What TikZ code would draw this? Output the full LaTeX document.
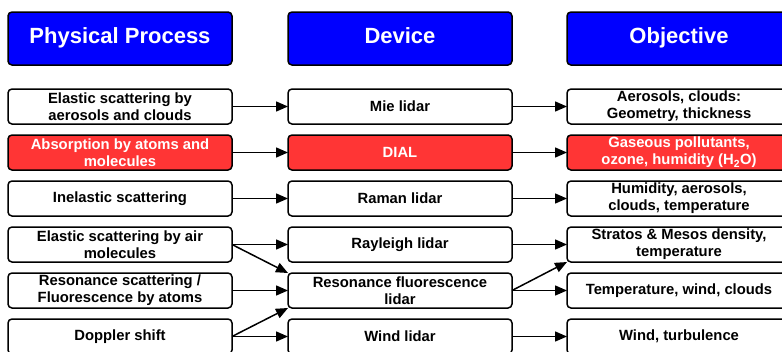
\documentclass[tikz,border=0pt]{standalone}
\usepackage{fontspec}
\setmainfont{Liberation Sans}
\usepackage{xcolor}
\usetikzlibrary{positioning, arrows.meta}

\definecolor{lidarblue}{HTML}{0000FF}
\definecolor{lidarred}{HTML}{FF3535}

\begin{document}
\begin{tikzpicture}[
    font=\bfseries\fontsize{14.8}{17}\selectfont,
    node distance=11pt and 56pt,
    box/.style={
        rectangle,
        rounded corners=4pt,
        draw=black,
        line width=1.5pt,
        align=center,
        inner sep=0pt,
        outer sep=0pt,
        minimum height=35pt,
        minimum width=224pt
    },
    plain/.style={box, fill=white},
    hot/.style={box, fill=lidarred, text=white},
    head/.style={box, fill=lidarblue, text=white, minimum height=53pt,
        text height=16pt, text depth=7pt,
        font=\bfseries\fontsize{22}{26}\selectfont},
    arrow/.style={-{Triangle[length=12pt, width=10pt]}, line width=1.5pt}
]
\useasboundingbox (0pt,0pt) rectangle (782pt,-351pt);

% column headers
\node[head, anchor=north west] (hproc) at (8pt,-12pt) {Physical Process};
\node[head, right=of hproc] (hdev) {Device};
\node[head, right=55pt of hdev] (hobj) {Objective};

% physical processes
\node[plain, below=24pt of hproc] (elastic) {Elastic scattering by\\aerosols and clouds};
\node[hot, below=of elastic] (absorb) {Absorption by atoms and\\molecules};
\node[plain, below=of absorb] (inelastic) {Inelastic scattering};
\node[plain, below=of inelastic] (airmol) {Elastic scattering by air\\molecules};
\node[plain, below=of airmol] (resonance) {Resonance scattering /\\Fluorescence by atoms};
\node[plain, below=of resonance] (doppler) {Doppler shift};

% devices
\node[plain, right=of elastic] (mie) {Mie lidar};
\node[hot, right=of absorb] (dial) {DIAL};
\node[plain, right=of inelastic] (raman) {Raman lidar};
\node[plain, right=of airmol] (rayleigh) {Rayleigh lidar};
\node[plain, right=of resonance] (fluor) {Resonance fluorescence\\lidar};
\node[plain, right=of doppler] (wind) {Wind lidar};

% objectives
\node[plain, right=55pt of mie] (clouds) {Aerosols, clouds:\\Geometry, thickness};
\node[hot, right=55pt of dial] (gases) {Gaseous pollutants,\\ozone, humidity (H\textsubscript{2}O)};
\node[plain, right=55pt of raman] (humidity) {Humidity, aerosols,\\clouds, temperature};
\node[plain, right=55pt of rayleigh] (density) {Stratos \& Mesos density,\\temperature};
\node[plain, right=55pt of fluor] (tempwind) {Temperature, wind, clouds};
\node[plain, right=55pt of wind] (turb) {Wind, turbulence};

% connections
\draw[arrow] (elastic) -- (mie);
\draw[arrow] (absorb) -- (dial);
\draw[arrow] (inelastic) -- (raman);
\draw[arrow] (airmol) -- (rayleigh);
\draw[arrow] (resonance) -- (fluor);
\draw[arrow] (doppler) -- (wind);
\draw[arrow] (airmol.east) -- (fluor.north west);
\draw[arrow] (doppler.east) -- (fluor.south west);

\draw[arrow] (mie) -- (clouds);
\draw[arrow] (dial) -- (gases);
\draw[arrow] (raman) -- (humidity);
\draw[arrow] (rayleigh) -- (density);
\draw[arrow] (fluor) -- (tempwind);
\draw[arrow] (wind) -- (turb);
\draw[arrow] (fluor.east) -- (density.south west);

\end{tikzpicture}
\end{document}
